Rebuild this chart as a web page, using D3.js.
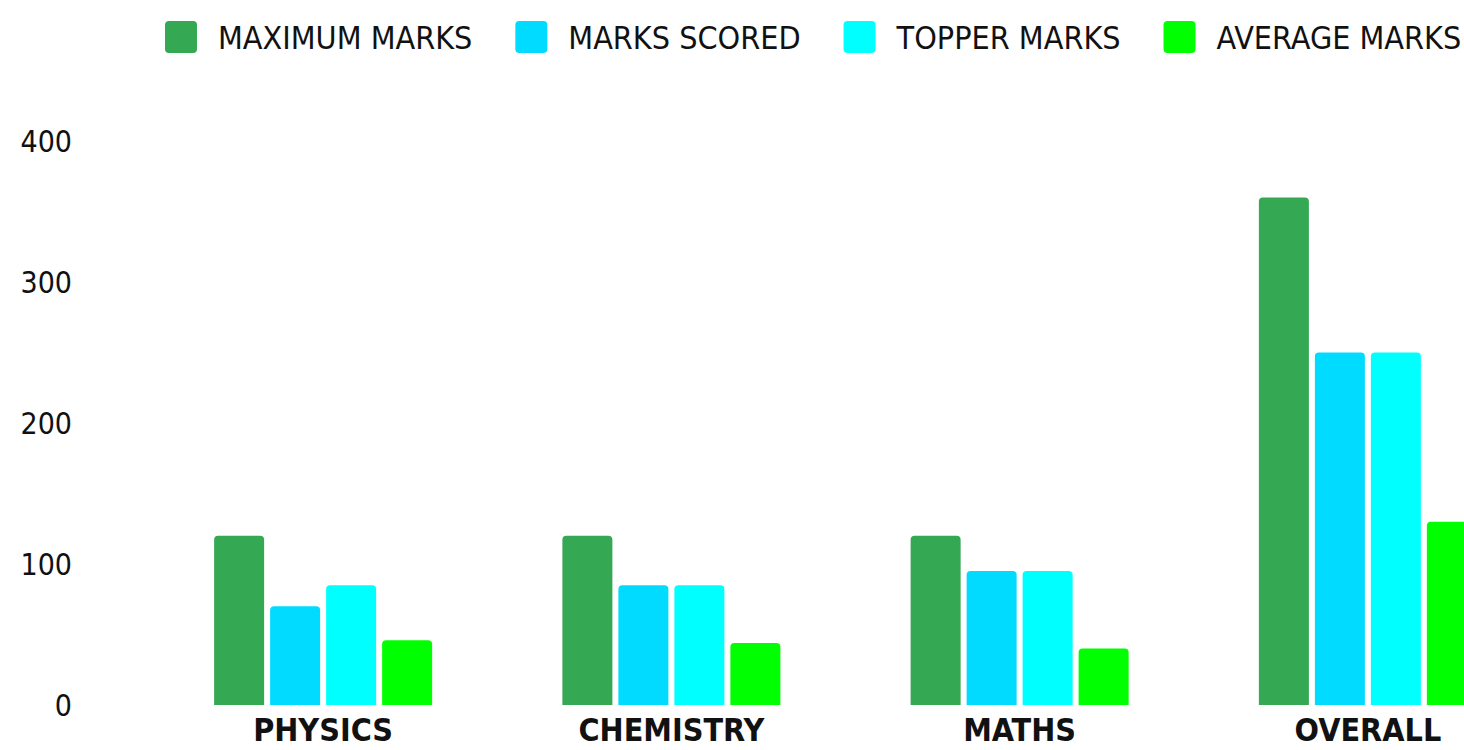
<!DOCTYPE html>
<html>
<head>
<meta charset="utf-8">
<script src="https://cdn.jsdelivr.net/npm/d3@7"></script>
<style>
  html, body { margin: 0; padding: 0; background: #fff; overflow: hidden; }
  svg { display: block; }
  .chart text { font-family: "DejaVu Sans Condensed", "DejaVu Sans", sans-serif; font-stretch: condensed; fill: #111; }
</style>
</head>
<body>
<svg id="chart" class="chart"></svg>
<script>
const subjects = ['PHYSICS', 'CHEMISTRY', 'MATHS', 'OVERALL'];
const seriesNames = ['MAXIMUM MARKS', 'MARKS SCORED', 'TOPPER MARKS', 'AVERAGE MARKS'];
const seriesColors = ['#34a853', '#00dbff', '#00ffff', '#00ff00'];

const maximumMarks = [120, 120, 120, 360];
const marksScored = [70, 85, 95, 250];
const topperMarks = [85, 85, 95, 250];
const averageMarks = [46, 44, 40, 130];

const yTicks = [0, 100, 200, 300, 400];

const config = {
  w: 1464,
  h: 750
};

function barPath(x, y, w, h, r) {
  r = Math.min(r, h, w / 2);
  return `M${x},${y + h}V${y + r}Q${x},${y} ${x + r},${y}H${x + w - r}Q${x + w},${y} ${x + w},${y + r}V${y + h}Z`;
}

function createVisualization({w, h}) {
  const svg = d3.select('#chart')
    .attr('width', w)
    .attr('height', h);

  const series = [maximumMarks, marksScored, topperMarks, averageMarks];
  const rows = subjects.map((s, i) => ({
    subject: s,
    values: seriesNames.map((name, j) => ({name, value: series[j][i], color: seriesColors[j]}))
  }));

  // the plot runs on past the right edge, the last bar gets clipped
  const x0 = d3.scaleBand()
    .domain(subjects)
    .range([149, 1542])
    .paddingInner(0.374)
    .paddingOuter(0.187);

  const x1 = d3.scaleBand()
    .domain(seriesNames)
    .range([0, x0.bandwidth()])
    .paddingInner(0.107);

  const y = d3.scaleLinear()
    .domain([0, 400])
    .range([705, 141]);

  // y labels, no axis line
  svg.append('g')
    .selectAll('text')
    .data(yTicks)
    .join('text')
    .attr('x', 72)
    .attr('y', d => y(d))
    .attr('dy', '0.36em')
    .attr('text-anchor', 'end')
    .style('font-size', '30px')
    .text(d => d);

  const groups = svg.append('g')
    .selectAll('g')
    .data(rows)
    .join('g')
    .attr('transform', d => `translate(${x0(d.subject)},0)`);

  groups.selectAll('path')
    .data(d => d.values)
    .join('path')
    .attr('fill', d => d.color)
    .attr('d', d => barPath(x1(d.name), y(d.value), x1.bandwidth(), y(0) - y(d.value), 4));

  svg.append('g')
    .selectAll('text')
    .data(subjects)
    .join('text')
    .attr('x', d => x0(d) + x0.bandwidth() / 2)
    .attr('y', 741)
    .attr('text-anchor', 'middle')
    .style('font-size', '32px')
    .style('font-weight', 'bold')
    .text(d => d);

  // legend, laid out left to right
  const legend = svg.append('g');
  let cursor = 165;
  seriesNames.forEach((name, i) => {
    const item = legend.append('g').attr('transform', `translate(${cursor},0)`);
    item.append('rect')
      .attr('x', 0)
      .attr('y', 21)
      .attr('width', 32)
      .attr('height', 32)
      .attr('rx', 4)
      .attr('fill', seriesColors[i]);
    const label = item.append('text')
      .attr('x', 53)
      .attr('y', 37)
      .attr('dy', '0.36em')
      .style('font-size', '32px')
      .text(name);
    cursor += 53 + label.node().getComputedTextLength() + 43;
  });
}

createVisualization(config);
</script>
</body>
</html>
